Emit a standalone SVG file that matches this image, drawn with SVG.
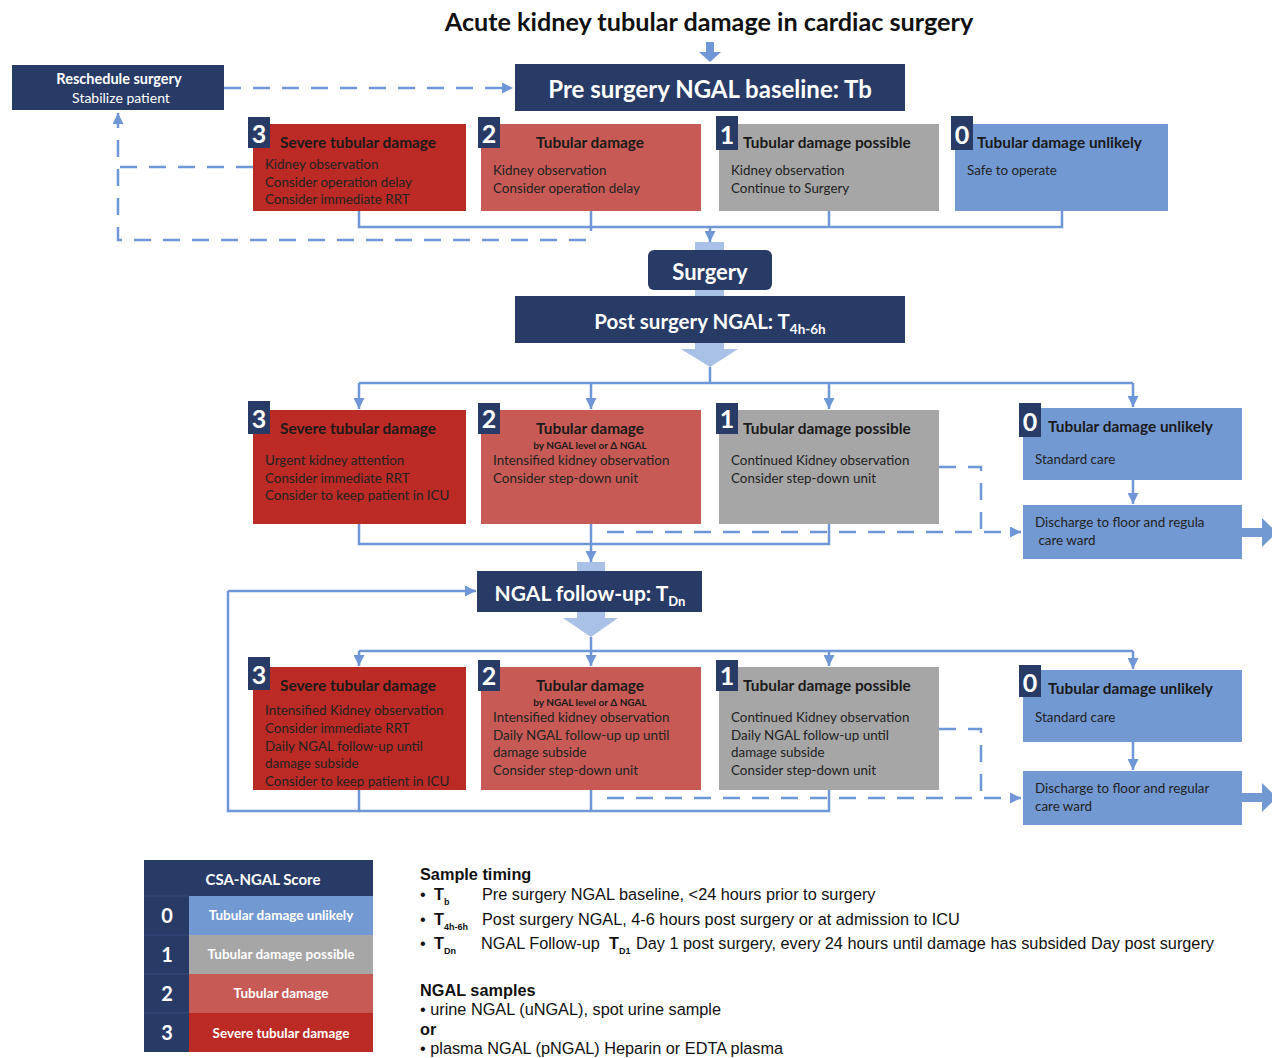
<svg xmlns="http://www.w3.org/2000/svg" width="1272" height="1058" viewBox="0 0 1272 1058">
<defs>
<marker id="ah" markerUnits="userSpaceOnUse" markerWidth="11" markerHeight="11" refX="10" refY="5" orient="auto" viewBox="0 0 10 10">
<path d="M0,0 L10,5 L0,10 z" fill="#6f96d6"/>
</marker>
<style>
.navy{fill:#283b66}
.r3{fill:#bb2a25}
.r2{fill:#c75a55}
.g1{fill:#a6a6a6}
.b0{fill:#7399d2}
.band{fill:#a9c1e6}
.ln{fill:none;stroke:#6f96d6;stroke-width:2.5}
.dash{fill:none;stroke:#6f96d6;stroke-width:2.5;stroke-dasharray:17 12}
.t{font-family:Lato,"Open Sans",sans-serif;font-size:13.4px;fill:#222}
.h{font-family:Lato,"Open Sans",sans-serif;font-size:15.4px;font-weight:bold;fill:#1a1a1a}
.sub{font-family:Lato,"Open Sans",sans-serif;font-size:10px;font-weight:bold;fill:#1a1a1a}
.num{font-family:Lato,"Open Sans",sans-serif;font-size:25px;font-weight:bold;fill:#fff}
.w{font-family:Lato,"Open Sans",sans-serif;font-weight:bold;fill:#fff}
.a{font-family:"Liberation Sans",Arial,sans-serif;font-size:16.3px;fill:#111}
</style>
</defs>
<rect width="1272" height="1058" fill="#fff"/>
<text x="709" y="31" text-anchor="middle" style="font-family:Lato,'Open Sans',sans-serif;font-size:25.2px;font-weight:bold;fill:#111">Acute kidney tubular damage in cardiac surgery</text>
<polygon points="706,42 714,42 714,52 721,52 710,62 699,52 706,52" fill="#6f96d6"/>

<g id="bands">
<rect x="695" y="242" width="29" height="54" class="band"/>
<polygon points="695,343 724,343 724,349 738,349 710,367 681,349 695,349" class="band"/>
<rect x="577" y="562" width="28" height="10" class="band"/>
<polygon points="577,612 605,612 605,618 618,618 591,637 563,618 577,618" class="band"/>
</g>

<g id="connectors">
<path class="dash" d="M224,88 H513" marker-end="url(#ah)"/>
<path class="dash" d="M253,167 H118"/>
<path class="dash" d="M586,240 H118 V113" marker-end="url(#ah)"/>
<path class="ln" d="M359,211 V227 H1062 V211 M591,211 V231 M829,211 V227"/>
<path class="ln" d="M710,227 V242" marker-end="url(#ah)"/>
<path class="ln" d="M710,367 V383 M359,383 H1133"/>
<path class="ln" d="M359,383 V409" marker-end="url(#ah)"/>
<path class="ln" d="M591,383 V409" marker-end="url(#ah)"/>
<path class="ln" d="M829,383 V409" marker-end="url(#ah)"/>
<path class="ln" d="M1133,383 V407" marker-end="url(#ah)"/>
<path class="ln" d="M1133,480 V504" marker-end="url(#ah)"/>
<path class="ln" d="M359,524 V544 H829 V524"/>
<path class="ln" d="M591,524 V562" marker-end="url(#ah)"/>
<path class="dash" d="M939,467 H981 V532"/>
<path class="dash" d="M607,532 H1021" marker-end="url(#ah)"/>
<path class="ln" d="M591,637 V651 M359,651 H1133"/>
<path class="ln" d="M359,651 V666" marker-end="url(#ah)"/>
<path class="ln" d="M591,651 V666" marker-end="url(#ah)"/>
<path class="ln" d="M829,651 V666" marker-end="url(#ah)"/>
<path class="ln" d="M1133,651 V669" marker-end="url(#ah)"/>
<path class="ln" d="M1133,742 V770" marker-end="url(#ah)"/>
<path class="ln" d="M359,790 V811 H228 V591" />
<path class="ln" d="M228,591 H476" marker-end="url(#ah)"/>
<path class="ln" d="M359,811 H829 V790 M591,790 V811"/>
<path class="dash" d="M939,729 H981 V798"/>
<path class="dash" d="M607,798 H1021" marker-end="url(#ah)"/>
<polygon points="1242,528 1262,528 1262,518 1277,532.5 1262,547 1262,537 1242,537" class="b0"/>
<polygon points="1242,793 1262,793 1262,783 1277,797.5 1262,812 1262,802 1242,802" class="b0"/>
</g>

<g id="reschedule">
<rect x="12" y="65" width="212" height="45" class="navy"/>
<text x="119" y="84" text-anchor="middle" class="w" style="font-size:14.5px">Reschedule surgery</text>
<text x="121" y="103" text-anchor="middle" style="font-family:Lato,'Open Sans',sans-serif;font-size:14px;fill:#fff">Stabilize patient</text>
</g>

<g id="pre-baseline">
<rect x="515" y="64" width="390" height="47" class="navy"/>
<text x="710" y="98" text-anchor="middle" class="w" style="font-size:24px">Pre surgery NGAL baseline: Tb</text>
</g>

<g id="pre-3">
<rect x="253" y="124" width="213" height="87" class="r3"/>
<rect x="248" y="117" width="22" height="31" class="navy"/>
<text x="259" y="143" text-anchor="middle" class="num">3</text>
<text x="280" y="148" class="h">Severe tubular damage</text>
<text x="265" y="169" class="t">Kidney observation</text>
<text x="265" y="187" class="t">Consider operation delay</text>
<text x="265" y="204" class="t">Consider immediate RRT</text>
</g>

<g id="pre-2">
<rect x="481" y="124" width="220" height="87" class="r2"/>
<rect x="478" y="117" width="22" height="31" class="navy"/>
<text x="489" y="143" text-anchor="middle" class="num">2</text>
<text x="590" y="148" text-anchor="middle" class="h">Tubular damage</text>
<text x="493" y="175" class="t">Kidney observation</text>
<text x="493" y="193" class="t">Consider operation delay</text>
</g>

<g id="pre-1">
<rect x="719" y="124" width="220" height="87" class="g1"/>
<rect x="716" y="116" width="22" height="34" class="navy"/>
<text x="727" y="144" text-anchor="middle" class="num">1</text>
<text x="743" y="148" class="h">Tubular damage possible</text>
<text x="731" y="175" class="t">Kidney observation</text>
<text x="731" y="193" class="t">Continue to Surgery</text>
</g>

<g id="pre-0">
<rect x="955" y="124" width="213" height="87" class="b0"/>
<rect x="951" y="116" width="22" height="34" class="navy"/>
<text x="962" y="144" text-anchor="middle" class="num">0</text>
<text x="977" y="148" class="h">Tubular damage unlikely</text>
<text x="967" y="175" class="t">Safe to operate</text>
</g>

<g id="surgery">
<rect x="648" y="250" width="124" height="40" rx="6" class="navy"/>
<text x="710" y="280" text-anchor="middle" class="w" style="font-size:22px">Surgery</text>
</g>

<g id="post-ngal">
<rect x="515" y="296" width="390" height="47" class="navy"/>
<text x="710" y="329" text-anchor="middle" class="w" style="font-size:20.5px">Post surgery NGAL: T<tspan dy="5" style="font-size:13.5px">4h-6h</tspan></text>
</g>

<g id="post-3">
<rect x="253" y="410" width="213" height="114" class="r3"/>
<rect x="248" y="401" width="22" height="33" class="navy"/>
<text x="259" y="428" text-anchor="middle" class="num">3</text>
<text x="280" y="434" class="h">Severe tubular damage</text>
<text x="265" y="465" class="t">Urgent kidney attention</text>
<text x="265" y="483" class="t">Consider immediate RRT</text>
<text x="265" y="500" class="t">Consider to keep patient in ICU</text>
</g>

<g id="post-2">
<rect x="481" y="410" width="220" height="114" class="r2"/>
<rect x="478" y="403" width="22" height="31" class="navy"/>
<text x="489" y="428" text-anchor="middle" class="num">2</text>
<text x="590" y="434" text-anchor="middle" class="h">Tubular damage</text>
<text x="590" y="449" text-anchor="middle" class="sub">by NGAL level or Δ NGAL</text>
<text x="493" y="465" class="t">Intensified kidney observation</text>
<text x="493" y="483" class="t">Consider step-down unit</text>
</g>

<g id="post-1">
<rect x="719" y="410" width="220" height="114" class="g1"/>
<rect x="716" y="403" width="22" height="31" class="navy"/>
<text x="727" y="428" text-anchor="middle" class="num">1</text>
<text x="743" y="434" class="h">Tubular damage possible</text>
<text x="731" y="465" class="t">Continued Kidney observation</text>
<text x="731" y="483" class="t">Consider step-down unit</text>
</g>

<g id="post-0">
<rect x="1023" y="408" width="219" height="72" class="b0"/>
<rect x="1019" y="403" width="22" height="34" class="navy"/>
<text x="1030" y="431" text-anchor="middle" class="num">0</text>
<text x="1048" y="432" class="h">Tubular damage unlikely</text>
<text x="1035" y="464" class="t">Standard care</text>
</g>

<g id="post-discharge">
<rect x="1023" y="505" width="219" height="54" class="b0"/>
<text x="1035" y="527" class="t">Discharge to floor and regula</text>
<text x="1035" y="545" class="t" xml:space="preserve"> care ward</text>
</g>

<g id="follow-up">
<rect x="477" y="571" width="225" height="41" class="navy"/>
<text x="590" y="601" text-anchor="middle" class="w" style="font-size:21px">NGAL follow-up: T<tspan dy="5" style="font-size:13px">Dn</tspan></text>
</g>

<g id="fu-3">
<rect x="253" y="667" width="213" height="123" class="r3"/>
<rect x="248" y="657" width="22" height="33" class="navy"/>
<text x="259" y="684" text-anchor="middle" class="num">3</text>
<text x="280" y="691" class="h">Severe tubular damage</text>
<text x="265" y="715" class="t">Intensified Kidney observation</text>
<text x="265" y="733" class="t">Consider immediate RRT</text>
<text x="265" y="751" class="t">Daily NGAL follow-up until</text>
<text x="265" y="768" class="t">damage subside</text>
<text x="265" y="786" class="t">Consider to keep patient in ICU</text>
</g>

<g id="fu-2">
<rect x="481" y="667" width="220" height="123" class="r2"/>
<rect x="478" y="660" width="22" height="31" class="navy"/>
<text x="489" y="685" text-anchor="middle" class="num">2</text>
<text x="590" y="691" text-anchor="middle" class="h">Tubular damage</text>
<text x="590" y="706" text-anchor="middle" class="sub">by NGAL level or Δ NGAL</text>
<text x="493" y="722" class="t">Intensified kidney observation</text>
<text x="493" y="740" class="t">Daily NGAL follow-up up until</text>
<text x="493" y="757" class="t">damage subside</text>
<text x="493" y="775" class="t">Consider step-down unit</text>
</g>

<g id="fu-1">
<rect x="719" y="667" width="220" height="123" class="g1"/>
<rect x="716" y="660" width="22" height="31" class="navy"/>
<text x="727" y="685" text-anchor="middle" class="num">1</text>
<text x="743" y="691" class="h">Tubular damage possible</text>
<text x="731" y="722" class="t">Continued Kidney observation</text>
<text x="731" y="740" class="t">Daily NGAL follow-up until</text>
<text x="731" y="757" class="t">damage subside</text>
<text x="731" y="775" class="t">Consider step-down unit</text>
</g>

<g id="fu-0">
<rect x="1023" y="670" width="219" height="72" class="b0"/>
<rect x="1019" y="665" width="22" height="32" class="navy"/>
<text x="1030" y="692" text-anchor="middle" class="num">0</text>
<text x="1048" y="694" class="h">Tubular damage unlikely</text>
<text x="1035" y="722" class="t">Standard care</text>
</g>

<g id="fu-discharge">
<rect x="1023" y="771" width="219" height="54" class="b0"/>
<text x="1035" y="793" class="t">Discharge to floor and regular</text>
<text x="1035" y="811" class="t">care ward</text>
</g>

<g id="legend">
<rect x="144" y="860" width="229" height="192" class="navy"/>
<text x="263" y="885" text-anchor="middle" class="w" style="font-size:15px">CSA-NGAL Score</text>
<rect x="189" y="896" width="184" height="39" class="b0"/>
<rect x="189" y="935" width="184" height="39" class="g1"/>
<rect x="189" y="974" width="184" height="39" class="r2"/>
<rect x="189" y="1013" width="184" height="39" class="r3"/>
<path d="M144,896 H189 M144,935 H189 M144,974 H189 M144,1013 H189" stroke="#34497a" stroke-width="1"/>
<text x="167" y="923" text-anchor="middle" class="w" style="font-size:20px">0</text>
<text x="167" y="962" text-anchor="middle" class="w" style="font-size:20px">1</text>
<text x="167" y="1001" text-anchor="middle" class="w" style="font-size:20px">2</text>
<text x="167" y="1040" text-anchor="middle" class="w" style="font-size:20px">3</text>
<text x="281" y="920" text-anchor="middle" class="w" style="font-size:13.5px">Tubular damage unlikely</text>
<text x="281" y="959" text-anchor="middle" class="w" style="font-size:13.5px">Tubular damage possible</text>
<text x="281" y="998" text-anchor="middle" class="w" style="font-size:13.5px">Tubular damage</text>
<text x="281" y="1038" text-anchor="middle" class="w" style="font-size:13.5px">Severe tubular damage</text>
</g>

<g id="notes">
<text x="420" y="880" class="a" style="font-weight:bold">Sample timing</text>
<text x="420" y="900" class="a">•</text>
<text x="434" y="900" class="a" style="font-weight:bold">T<tspan dy="5" style="font-size:9px">b</tspan></text>
<text x="482" y="900" class="a">Pre surgery NGAL baseline, &lt;24 hours prior to surgery</text>
<text x="420" y="925" class="a">•</text>
<text x="434" y="925" class="a" style="font-weight:bold">T<tspan dy="5" style="font-size:9px">4h-6h</tspan></text>
<text x="482" y="925" class="a">Post surgery NGAL, 4-6 hours post surgery or at admission to ICU</text>
<text x="420" y="949" class="a">•</text>
<text x="434" y="949" class="a" style="font-weight:bold">T<tspan dy="5" style="font-size:9px">Dn</tspan></text>
<text x="481" y="949" class="a">NGAL Follow-up</text>
<text x="609" y="949" class="a" style="font-weight:bold">T<tspan dy="5" style="font-size:9px">D1</tspan></text>
<text x="636" y="949" class="a">Day 1 post surgery, every 24 hours until damage has subsided Day post surgery</text>
<text x="420" y="996" class="a" style="font-weight:bold">NGAL samples</text>
<text x="420" y="1015" class="a">•  urine NGAL (uNGAL), spot urine sample</text>
<text x="420" y="1035" class="a" style="font-weight:bold">or</text>
<text x="420" y="1054" class="a">•  plasma NGAL (pNGAL) Heparin or EDTA plasma</text>
</g>
</svg>
